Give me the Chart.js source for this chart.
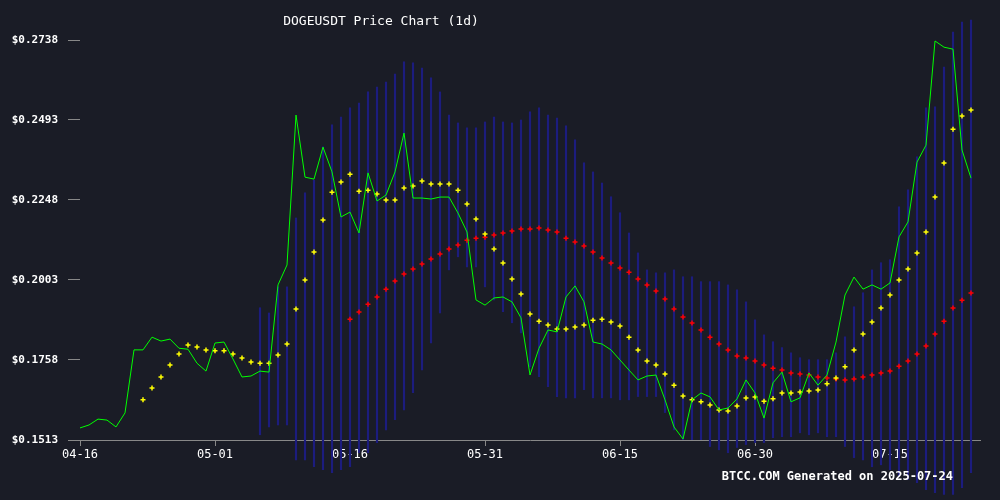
<!DOCTYPE html>
<html><head><meta charset="utf-8">
<script src="https://cdn.jsdelivr.net/npm/chart.js@4"></script>
<style>html,body{margin:0;padding:0;background:#1a1c26;}#w{width:1000px;height:500px;}</style>
</head><body><div id="w"><canvas id="c"></canvas></div>
<script>
const dateLabels = ['04-16','05-01','05-16','05-31','06-15','06-30','07-15'];
const yTicks = [0.1513,0.1758,0.2003,0.2248,0.2493,0.2738];
const price = [0.1550,0.1559,0.1577,0.1574,0.1553,0.1596,0.1789,0.1789,0.1828,0.1816,0.1822,0.1794,0.1791,0.1748,0.1724,0.1810,0.1813,0.1761,0.1706,0.1709,
0.1724,0.1721,0.1988,0.2049,0.2508,0.2318,0.2312,0.2410,0.2334,0.2196,0.2211,0.2147,0.2331,0.2245,0.2263,0.2334,0.2453,0.2254,0.2254,0.2251,
0.2257,0.2257,0.2208,0.2150,0.1942,0.1926,0.1948,0.1951,0.1936,0.1887,0.1712,0.1794,0.1850,0.1844,0.1951,0.1985,0.1936,0.1813,0.1807,0.1789,
0.1758,0.1727,0.1697,0.1709,0.1712,0.1636,0.1553,0.1516,0.1636,0.1657,0.1645,0.1605,0.1611,0.1639,0.1697,0.1657,0.1580,0.1688,0.1721,0.1630,
0.1642,0.1718,0.1681,0.1712,0.1813,0.1957,0.2012,0.1975,0.1988,0.1975,0.1994,0.2135,0.2181,0.2364,0.2416,0.2735,0.2716,0.2710,0.2401,0.2315];
const maShortStart = 7;
const maShort = [0.1636,0.1672,0.1706,0.1743,0.1776,0.1804,0.1798,0.1789,0.1786,0.1786,0.1776,0.1764,0.1752,0.1748,0.1748,0.1773,0.1807,0.1914,0.2003,0.2089,
0.2187,0.2272,0.2303,0.2327,0.2275,0.2278,0.2266,0.2248,0.2248,0.2285,0.2291,0.2306,0.2297,0.2297,0.2297,0.2278,0.2236,0.2190,0.2144,0.2098,
0.2055,0.2006,0.1960,0.1899,0.1877,0.1865,0.1853,0.1853,0.1859,0.1865,0.1880,0.1883,0.1874,0.1862,0.1828,0.1789,0.1755,0.1743,0.1715,0.1681,
0.1648,0.1636,0.1630,0.1620,0.1605,0.1602,0.1617,0.1642,0.1645,0.1632,0.1639,0.1657,0.1657,0.1660,0.1663,0.1666,0.1685,0.1703,0.1737,0.1789,
0.1838,0.1874,0.1917,0.1957,0.2003,0.2037,0.2086,0.2150,0.2257,0.2361,0.2465,0.2505,0.2524];
const maLongStart = 30;
const maLong = [0.1883,0.1905,0.1929,0.1951,0.1975,0.2000,0.2021,0.2037,0.2052,0.2067,0.2083,0.2098,0.2110,0.2125,0.2131,0.2134,0.2141,0.2147,0.2153,0.2159,
0.2159,0.2162,0.2156,0.2150,0.2131,0.2119,0.2107,0.2089,0.2070,0.2055,0.2040,0.2027,0.2006,0.1988,0.1969,0.1945,0.1914,0.1890,0.1871,0.1850,
0.1828,0.1807,0.1789,0.1770,0.1764,0.1755,0.1743,0.1733,0.1727,0.1718,0.1715,0.1712,0.1706,0.1703,0.1700,0.1697,0.1700,0.1706,0.1712,0.1718,
0.1724,0.1739,0.1755,0.1776,0.1801,0.1838,0.1877,0.1917,0.1941,0.1963];
const bandStart = 20;
const bandUpper = [0.1918,0.1902,0.1982,0.1982,0.2193,0.2270,0.2309,0.2411,0.2478,0.2502,0.2530,0.2545,0.2579,0.2594,0.2609,0.2634,0.2671,0.2668,0.2652,0.2622,
0.2579,0.2508,0.2484,0.2469,0.2469,0.2487,0.2502,0.2487,0.2484,0.2493,0.2518,0.2530,0.2508,0.2499,0.2475,0.2432,0.2362,0.2334,0.2300,0.2258,
0.2209,0.2147,0.2086,0.2034,0.2025,0.2025,0.2034,0.2013,0.2013,0.1998,0.1998,0.1998,0.1988,0.1973,0.1936,0.1881,0.1835,0.1814,0.1796,0.1780,
0.1765,0.1759,0.1759,0.1759,0.1780,0.1829,0.1921,0.1964,0.2034,0.2056,0.2065,0.2227,0.2279,0.2380,0.2530,0.2533,0.2655,0.2762,0.2793,0.2799];
const bandLower = [0.1529,0.1553,0.1559,0.1559,0.1452,0.1452,0.1431,0.1422,0.1413,0.1422,0.1431,0.1474,0.1474,0.1505,0.1544,0.1575,0.1605,0.1658,0.1728,0.1810,
0.1902,0.2034,0.2074,0.2043,0.2043,0.1982,0.1942,0.1906,0.1872,0.1841,0.1737,0.1707,0.1676,0.1646,0.1642,0.1642,0.1667,0.1642,0.1642,0.1642,
0.1636,0.1636,0.1646,0.1646,0.1646,0.1597,0.1544,0.1514,0.1514,0.1514,0.1493,0.1483,0.1474,0.1490,0.1499,0.1505,0.1505,0.1520,0.1523,0.1523,
0.1535,0.1529,0.1535,0.1523,0.1523,0.1493,0.1459,0.1452,0.1431,0.1437,0.1422,0.1401,0.1392,0.1382,0.1361,0.1352,0.1346,0.1346,0.1367,0.1413];

const xy = (arr, s) => arr.map((v,i)=>({x:i+s,y:v}));
const bars = bandUpper.map((u,i)=>({x:i+bandStart,y:[bandLower[i],u]}));
const mono = "'DejaVu Sans Mono', monospace";

const textPlugin = {id:'txt', afterDraw(ch){const c=ch.ctx;c.save();c.fillStyle='#ffffff';
 c.font="13px "+mono;c.textAlign='center';c.textBaseline='middle';c.fillText('DOGEUSDT Price Chart (1d)',381,22);
 c.font="bold 12px "+mono;c.textAlign='right';c.fillText('BTCC.COM Generated on 2025-07-24',953,477);c.restore();}};

new Chart(document.getElementById('c'),{
 type:'bar',
 data:{datasets:[
  {type:'line',data:xy(price,0),borderColor:'#00ff00',borderWidth:1,pointRadius:0,tension:0,order:1},
  {type:'line',data:xy(maShort,maShortStart),showLine:false,pointStyle:'cross',pointRadius:2.5,borderColor:'#ffff00',borderWidth:1.5,order:2},
  {type:'line',data:xy(maLong,maLongStart),showLine:false,pointStyle:'cross',pointRadius:2.5,borderColor:'#ff0000',borderWidth:1.5,order:3},
  {type:'bar',data:bars,backgroundColor:'#1c1c7e',barThickness:1.5,clip:false,order:4}
 ]},
 options:{responsive:true,maintainAspectRatio:false,animation:false,
  layout:{padding:{left:0,top:40,right:20,bottom:40}},
  plugins:{legend:{display:false},tooltip:{enabled:false}},
  scales:{
   x:{type:'linear',min:0,max:100,offset:false,
    afterFit(s){s.height=20;},
    afterBuildTicks(s){s.ticks=dateLabels.map((l,i)=>({value:i*15}));},
    ticks:{color:'#ffffff',font:{family:mono,size:12},callback:(v)=>dateLabels[v/15],maxRotation:0,padding:2},
    grid:{display:true,drawOnChartArea:false,offset:false,color:'#888888',tickLength:6},
    border:{display:true,color:'#888888'}},
   y:{type:'linear',min:0.1513,max:0.2738,
    afterFit(s){s.width=80;},
    afterBuildTicks(s){s.ticks=yTicks.map(v=>({value:v}));},
    ticks:{color:'#ffffff',font:{family:mono,size:11,weight:'bold'},callback:(v)=>'$'+v.toFixed(4),padding:10},
    grid:{display:true,drawOnChartArea:false,color:'#888888',tickLength:12},
    border:{display:false}}
  }},
 plugins:[textPlugin]
});
</script></body></html>
